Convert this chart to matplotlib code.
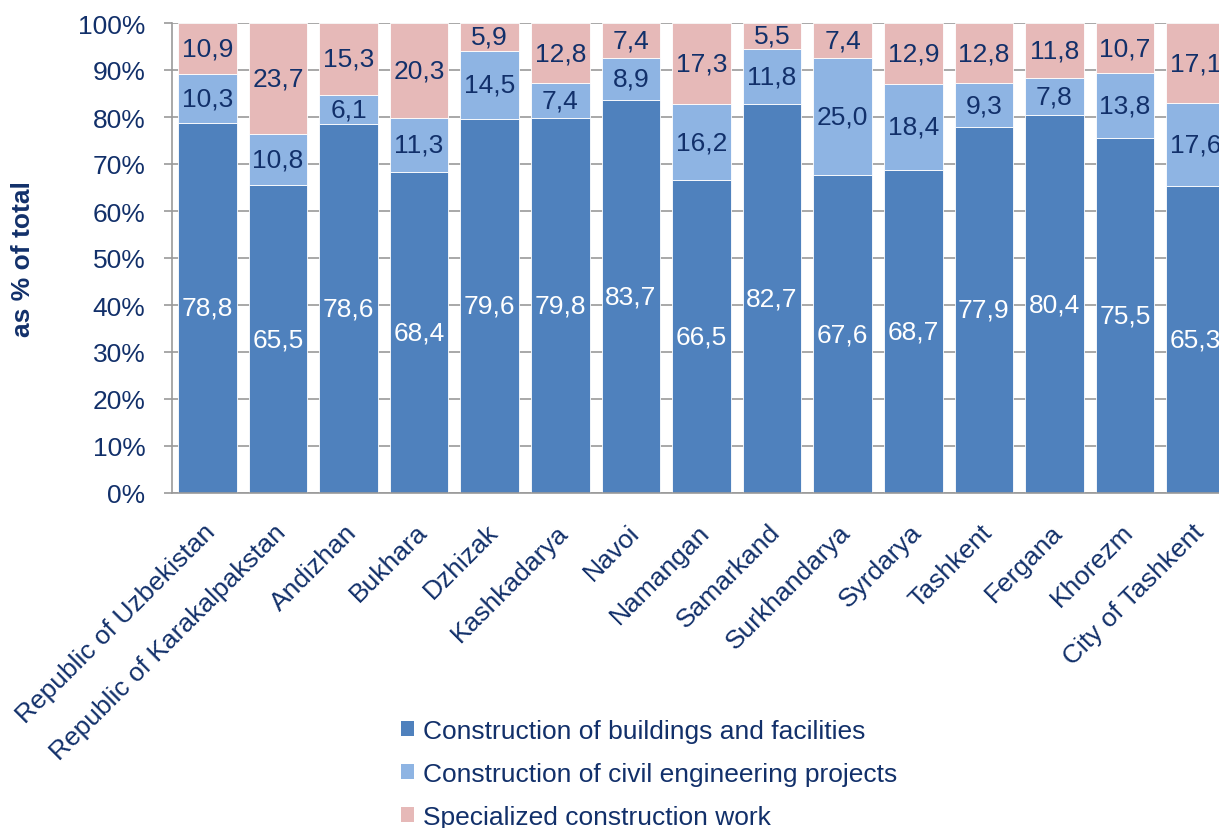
import numpy as np
import matplotlib.pyplot as plt
from matplotlib.patches import Patch
from matplotlib import transforms

plt.rcParams['font.family'] = ['Liberation Sans', 'DejaVu Sans']

NAVY = '#12306A'
C_BUILD = '#4F81BD'
C_CIVIL = '#8EB4E3'
C_SPEC = '#E6B9B8'
GRID = '#9A9A9A'
FS = 19

regions = ['Republic of Uzbekistan', 'Republic of Karakalpakstan', 'Andizhan',
           'Bukhara', 'Dzhizak', 'Kashkadarya', 'Navoi', 'Namangan', 'Samarkand',
           'Surkhandarya', 'Syrdarya', 'Tashkent', 'Fergana', 'Khorezm',
           'City of Tashkent']
buildings = [78.8, 65.5, 78.6, 68.4, 79.6, 79.8, 83.7, 66.5, 82.7, 67.6, 68.7,
             77.9, 80.4, 75.5, 65.3]
civil = [10.3, 10.8, 6.1, 11.3, 14.5, 7.4, 8.9, 16.2, 11.8, 25.0, 18.4, 9.3,
         7.8, 13.8, 17.6]
special = [10.9, 23.7, 15.3, 20.3, 5.9, 12.8, 7.4, 17.3, 5.5, 7.4, 12.9, 12.8,
           11.8, 10.7, 17.1]
series_names = ['Construction of buildings and facilities',
                'Construction of civil engineering projects',
                'Specialized construction work']


def fmt(v):
    return f'{v:.1f}'.replace('.', ',')


fig = plt.figure(figsize=(12.19, 8.29), dpi=100)
# axes runs past the right edge of the figure, like the source image
ax = fig.add_axes([172 / 1219, 335 / 829, 1059 / 1219, 470 / 829])

x = np.arange(len(regions))
width = 0.83
bottom = np.zeros(len(regions))
series = [(buildings, C_BUILD, 'white'), (civil, C_CIVIL, NAVY), (special, C_SPEC, NAVY)]
for vals, color, tcolor in series:
    vals = np.array(vals)
    ax.bar(x, vals, width, bottom=bottom, color=color, edgecolor='white',
           linewidth=0.6, zorder=2)
    for xi, b, v in zip(x, bottom, vals):
        ax.text(xi, b + v / 2, fmt(v), ha='center', va='center', fontsize=FS,
                color=tcolor, zorder=3)
    bottom = bottom + vals

ax.set_xlim(-0.5, len(regions) - 0.5)
ax.set_ylim(0, 100)
ax.set_yticks(np.arange(0, 101, 10))
ax.set_yticklabels([f'{t}%' for t in range(0, 101, 10)])
ax.yaxis.grid(True, color=GRID, linewidth=1.2, zorder=0)
ax.set_axisbelow(True)
for s in ['top', 'right']:
    ax.spines[s].set_visible(False)
for s in ['left', 'bottom']:
    ax.spines[s].set_color(GRID)
    ax.spines[s].set_linewidth(1.2)
ax.tick_params(axis='y', length=6, width=1.2, color=GRID, labelsize=FS,
               labelcolor=NAVY, pad=13)
ax.tick_params(axis='x', length=0, labelsize=FS, labelcolor=NAVY, pad=19)

ax.set_xticks(x)
ax.set_xticklabels(regions, rotation=45, ha='right', va='top',
                   rotation_mode='anchor')
offset = transforms.ScaledTranslation(-3 / 72, 0, fig.dpi_scale_trans)
for lbl in ax.get_xticklabels():
    lbl.set_transform(lbl.get_transform() + offset)

ax.set_ylabel('as % of total', fontsize=FS, fontweight='bold', color=NAVY,
              labelpad=31)

handles = [Patch(facecolor=c) for c in (C_BUILD, C_CIVIL, C_SPEC)]
fig.legend(handles, series_names, loc='upper left',
           bbox_to_anchor=(401 / 1219, 1 - 720 / 829), frameon=False,
           fontsize=FS, labelcolor=NAVY, handlelength=0.5, handleheight=0.5,
           handletextpad=0.35, labelspacing=0.72, borderpad=0, borderaxespad=0)

fig.savefig('out.png', dpi=100)
